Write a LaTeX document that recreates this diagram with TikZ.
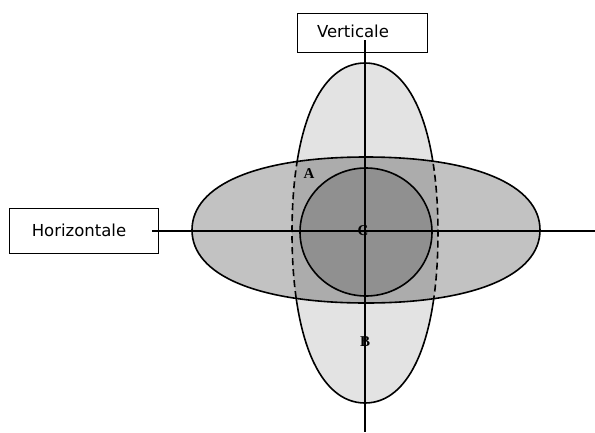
\documentclass[tikz,border=0pt]{standalone}
\usepackage{fontspec}
\setsansfont{DejaVu Sans}
\newfontfamily\lblfont{Liberation Serif}
\begin{document}
\begin{tikzpicture}[x=1pt,y=-1pt,
  boxstyle/.style={draw=black,line width=1pt,inner sep=0pt},
  boxtext/.style={font=\sffamily\fontsize{16.5}{19}\selectfont,inner sep=0pt},
  axisline/.style={draw=black,line width=1.2pt},
  outline/.style={draw=black,line width=1.6pt},
  ptlabel/.style={font=\lblfont\bfseries\fontsize{15}{17}\selectfont,inner sep=0pt}]
\useasboundingbox (0,0) rectangle (595,432);
% shapes
\def\vertpath{(365,63) .. controls (410.3,63) and (438,127.6) .. (438,233) .. controls (438,338.4) and (410.3,403) .. (365,403) .. controls (319.7,403) and (292,338.4) .. (292,233) .. controls (292,127.6) and (319.7,63) .. cycle}
\def\horpath{(540,230) .. controls (540,275.3) and (473.9,303) .. (366,303) .. controls (258.1,303) and (192,275.3) .. (192,230) .. controls (192,184.7) and (258.1,157) .. (366,157) .. controls (473.9,157) and (540,184.7) .. cycle}
\fill[black!11] \vertpath;
\fill[black,fill opacity=0.24] \horpath;
\fill[black,fill opacity=0.16] (366,232) ellipse [x radius=66, y radius=64];
% outlines
\draw[outline] \horpath;
\begin{scope}[even odd rule]
  \clip (0,0) rectangle (595,432) \horpath;
  \draw[outline] \vertpath;
\end{scope}
\begin{scope}
  \clip \horpath;
  \draw[outline,dash pattern=on 7pt off 4pt] \vertpath;
\end{scope}
\draw[outline] (366,232) ellipse [x radius=66, y radius=64];
% boxes
\node[boxstyle,minimum width=130pt,minimum height=39pt] (vbox) at (362,32.5) {};
\node[boxtext] (vtext) at (353,31) {Verticale};
\node[boxstyle,minimum width=149pt,minimum height=45pt] (hbox) at (83.5,230.5) {};
\node[boxtext] (htext) at (79,230) {Horizontale};
% axes
\coordinate (vtop) at (365,40);
\coordinate (vbot) at (365,432);
\coordinate (hleft) at (152,231);
\coordinate (hright) at (595,231);
\draw[axisline] (vtop) -- (vbot);
\draw[axisline] (hleft) -- (hright);
% labels
\node[ptlabel] (A) at (309,174) {A};
\node[ptlabel] (C) at (363,231) {C};
\node[ptlabel] (B) at (365,342) {B};
\end{tikzpicture}
\end{document}
